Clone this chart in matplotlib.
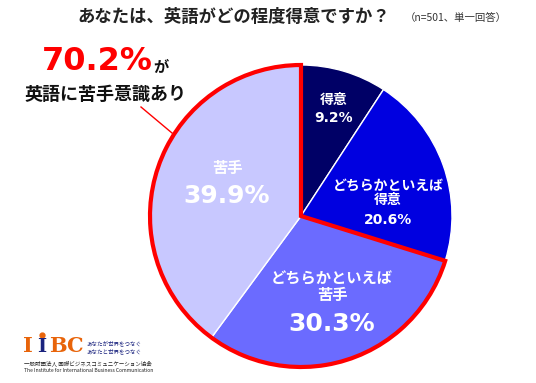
import matplotlib
matplotlib.use("Agg")
import matplotlib.pyplot as plt
from matplotlib.patches import Wedge

plt.rcParams['font.family'] = ['Noto Sans CJK JP', 'DejaVu Sans']

# data
labels = ['得意', 'どちらかといえば\n得意', 'どちらかといえば\n苦手', '苦手']
shares = [9.2, 20.6, 30.3, 39.9]
colors = ['#000066', '#0000E0', '#6B6BFF', '#C8C8FF']
title = 'あなたは、英語がどの程度得意ですか？'
note = '（n=501、単一回答）'
weak_total = 70.2

W, H = 536, 383
fig = plt.figure(figsize=(W / 100, H / 100), dpi=100)
ax = fig.add_axes([0, 0, 1, 1])

def Y(y):
    # pixel row (from top) -> data y
    return H - y

num = ['DejaVu Sans', 'Noto Sans CJK JP']

cx, cy, r = 301, Y(216), 151
wedges, _ = ax.pie(shares, colors=colors, startangle=90, counterclock=False,
                   center=(cx, cy), radius=r, frame=True,
                   wedgeprops=dict(edgecolor='white', linewidth=1))

# red outline around the "weak" share (last two slices)
end_ang = 90 - sum(shares[:2]) / 100 * 360
ax.add_patch(Wedge((cx, cy), r, 90, end_ang + 360, fill=False,
                   edgecolor='#FF0000', linewidth=3, zorder=5))

# slice labels
ax.text(334, Y(100), labels[0], color='white', fontsize=10, fontweight='bold', ha='center', va='center')
ax.text(334, Y(118), f'{shares[0]}%', color='white', fontsize=10, fontweight='bold', family=num, ha='center', va='center')
ax.text(388, Y(193), labels[1], color='white', fontsize=10, fontweight='bold', ha='center', va='center', linespacing=1.05)
ax.text(388, Y(220), f'{shares[1]}%', color='white', fontsize=10, fontweight='bold', family=num, ha='center', va='center')
ax.text(332, Y(287), labels[2], color='white', fontsize=11, fontweight='bold', ha='center', va='center', linespacing=1.05)
ax.text(332, Y(324), f'{shares[2]}%', color='white', fontsize=18, fontweight='bold', family=num, ha='center', va='center')
ax.text(227, Y(168), labels[3], color='white', fontsize=11, fontweight='bold', ha='center', va='center')
ax.text(227, Y(196), f'{shares[3]}%', color='white', fontsize=18, fontweight='bold', family=num, ha='center', va='center')

# title
ax.text(234, Y(17), title, fontsize=12.5, fontweight='bold', ha='center', va='center', color='#222222')
ax.text(456, Y(18), note, fontsize=7.5, ha='center', va='center', color='#333333')

# callout
ax.text(97, Y(62), f'{weak_total}%', fontsize=23, fontweight='bold', family=num, color='#FF0000', ha='center', va='center')
ax.text(161, Y(67), 'が', fontsize=11, fontweight='bold', color='#111111', ha='center', va='center')
ax.text(106, Y(94), '英語に苦手意識あり', fontsize=13, fontweight='bold', color='#111111', ha='center', va='center')
ax.plot([141, 172], [Y(107), Y(133)], color='#FF0000', linewidth=1)

# logo
ax.text(28, Y(346), 'I', fontsize=15, fontweight='bold', family='DejaVu Serif', color='#E8640A', ha='center', va='center')
ax.text(42, Y(347), 'I', fontsize=14, fontweight='bold', family='DejaVu Serif', color='#1A237E', ha='center', va='center')
ax.plot([42], [Y(335)], marker='o', markersize=3.5, color='#E8640A')
ax.text(66, Y(346), 'BC', fontsize=15, fontweight='bold', family='DejaVu Serif', color='#E8640A', ha='center', va='center')
ax.text(86, Y(343), 'あなたが世界をつなぐ', fontsize=4, color='#1A237E', ha='left', va='center')
ax.text(86, Y(351), 'あなたと世界をつなぐ', fontsize=4, color='#1A237E', ha='left', va='center')
ax.text(24, Y(363), '一般財団法人 国際ビジネスコミュニケーション協会', fontsize=4, color='#222222', ha='left', va='center')
ax.text(24, Y(370), 'The Institute for International Business Communication', fontsize=3.6, color='#222222', ha='left', va='center')

ax.set_xlim(0, W)
ax.set_ylim(0, H)
ax.set_aspect('equal')
ax.axis('off')

fig.savefig('out.png', dpi=100, facecolor='white')
